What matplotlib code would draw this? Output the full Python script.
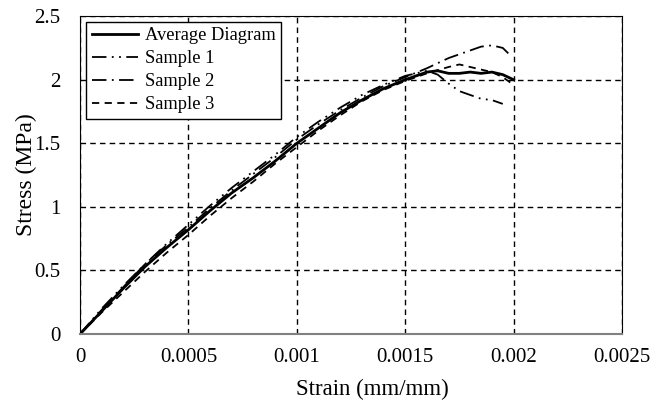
import matplotlib
matplotlib.use("Agg")
import matplotlib.pyplot as plt
from matplotlib.ticker import FuncFormatter

# strain (mm/mm) and stress (MPa)
strain_base = [0, 0.0001, 0.0002, 0.0003, 0.0004, 0.0005, 0.0006, 0.0007,
               0.0008, 0.0009, 0.001, 0.0011, 0.0012, 0.0013, 0.0014, 0.0015]

strain_avg = strain_base + [0.00155, 0.0016, 0.00165, 0.0017, 0.00175,
                            0.0018, 0.00185, 0.0019, 0.00195, 0.002]
stress_avg = [0, 0.18, 0.36, 0.53, 0.68, 0.82, 0.97, 1.11, 1.23, 1.36, 1.50,
              1.62, 1.74, 1.84, 1.93, 2.00,
              2.03, 2.06, 2.07, 2.05, 2.05, 2.06, 2.05, 2.06, 2.04, 2.00]

strain_s1 = strain_base + [0.0016, 0.00165, 0.0017, 0.00175, 0.0018,
                           0.00185, 0.0019, 0.00195]
stress_s1 = [0, 0.20, 0.38, 0.55, 0.71, 0.86, 1.01, 1.15, 1.28, 1.41, 1.55,
             1.67, 1.78, 1.88, 1.96, 2.03,
             2.07, 2.04, 1.97, 1.91, 1.88, 1.85, 1.84, 1.81]

strain_s2 = strain_base + [0.0016, 0.0017, 0.0018, 0.00185, 0.0019,
                           0.00195, 0.00198]
stress_s2 = [0, 0.19, 0.37, 0.55, 0.70, 0.84, 0.99, 1.13, 1.26, 1.39, 1.53,
             1.65, 1.76, 1.86, 1.95, 2.02,
             2.09, 2.17, 2.23, 2.26, 2.27, 2.25, 2.20]

strain_s3 = strain_base + [0.0016, 0.0017, 0.00175, 0.0018, 0.00185,
                           0.0019, 0.00195, 0.002]
stress_s3 = [0, 0.17, 0.33, 0.49, 0.64, 0.78, 0.93, 1.07, 1.20, 1.34, 1.47,
             1.60, 1.72, 1.83, 1.92, 1.99,
             2.05, 2.10, 2.12, 2.10, 2.08, 2.06, 2.02, 1.96]

x_ticks = [0, 0.0005, 0.001, 0.0015, 0.002, 0.0025]
y_ticks = [0, 0.5, 1, 1.5, 2, 2.5]

plt.rcParams['font.family'] = ['Liberation Serif', 'DejaVu Serif']

fig = plt.figure(figsize=(6.65, 4.03), dpi=100)
ax = fig.add_axes([0.1203, 0.171, 0.815, 0.789])

ax.plot(strain_avg, stress_avg, color='black', lw=2.0, ls='-', label='Average Diagram')
ax.plot(strain_s1, stress_s1, color='black', lw=1.3, ls=(0, (8, 3, 1, 3, 1, 3)), label='Sample 1')
ax.plot(strain_s2, stress_s2, color='black', lw=1.3, ls=(0, (8, 3, 1, 3)), label='Sample 2')
ax.plot(strain_s3, stress_s3, color='black', lw=1.3, ls=(0, (4, 3)), label='Sample 3')

ax.set_xlim(0, 0.0025)
ax.set_ylim(0, 2.5)
ax.set_xticks(x_ticks)
ax.set_yticks(y_ticks)
fmt = FuncFormatter(lambda v, p: '%g' % v)
ax.xaxis.set_major_formatter(fmt)
ax.yaxis.set_major_formatter(fmt)
ax.tick_params(labelsize=15, length=0)
ax.tick_params(axis='x', pad=10)
ax.tick_params(axis='y', pad=14)

ax.grid(True, color='black', ls=(0, (4, 3)), lw=1.0)
ax.set_axisbelow(True)
ax.spines['bottom'].set_color('#808080')
ax.spines['bottom'].set_linewidth(1.5)
for s in ['left', 'top', 'right']:
    ax.spines[s].set_color('black')

ax.set_xlabel('Strain (mm/mm)', fontsize=16.5)
ax.set_ylabel('Stress (MPa)', fontsize=17)
ax.xaxis.set_label_coords(0.54, -0.14)
ax.yaxis.set_label_coords(-0.08, 0.5)

leg = ax.legend(loc='upper left', bbox_to_anchor=(0.011, 0.983), fontsize=13.3,
                frameon=True, fancybox=False, edgecolor='black', framealpha=1,
                handlelength=2.5, handletextpad=0.4, borderaxespad=0,
                labelspacing=0.33, borderpad=0.3)
leg.get_frame().set_linewidth(1.0)

fig.savefig('out.png', dpi=100)
